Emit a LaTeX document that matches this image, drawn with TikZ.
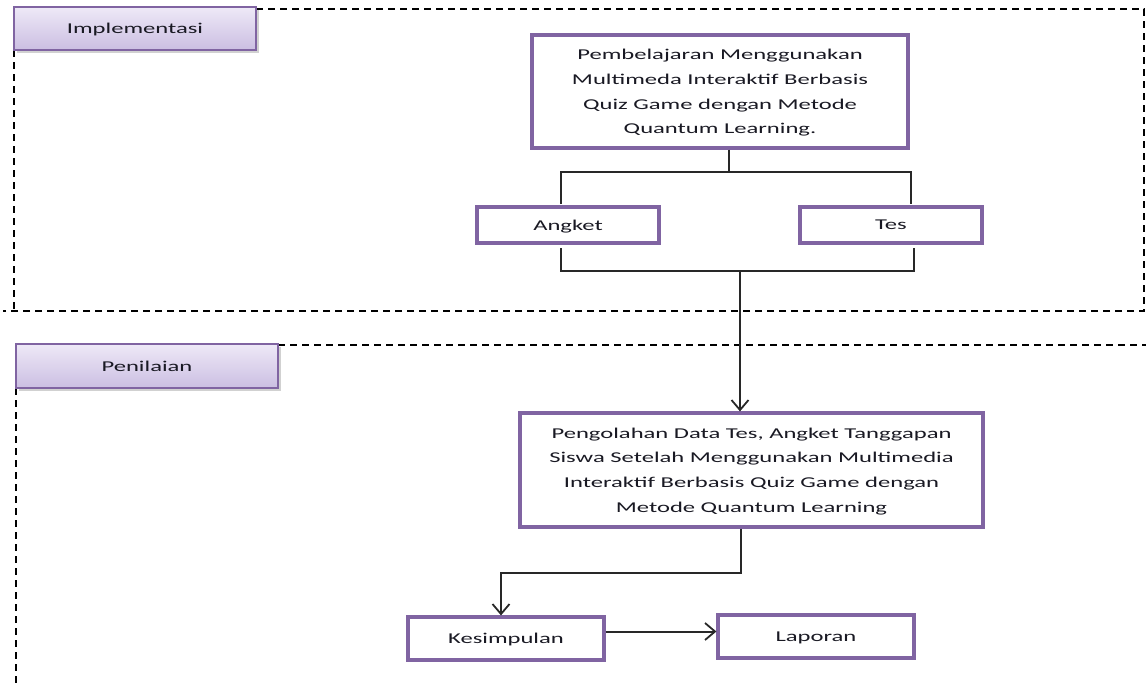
\documentclass[tikz,border=0pt]{standalone}
\usepackage{fontspec}
\setmainfont{Carlito}[FakeStretch=1.64]
\usetikzlibrary{arrows.meta}
\definecolor{boxpurple}{RGB}{128,100,162}
\definecolor{hdtop}{RGB}{238,233,247}
\definecolor{hdbot}{RGB}{203,190,226}
\definecolor{linegray}{RGB}{40,40,40}
\definecolor{txt}{RGB}{25,25,35}
\tikzset{
  mainbox/.style={draw=boxpurple, line width=3.2pt, fill=white, align=center, inner sep=0pt,
    font=\fontsize{15}{24.8}\selectfont, text=txt, text depth=0pt},
  hdbox/.style={draw=boxpurple, line width=1.6pt, top color=hdtop, bottom color=hdbot,
    inner sep=0pt, font=\fontsize{15}{24.8}\selectfont, text=txt, text depth=0pt},
  conn/.style={draw=linegray, line width=2pt},
  arr/.style={conn, -{Straight Barb[length=10pt,width=17pt,line width=1.8pt]}},
  frame/.style={draw=black, line width=2pt, dash pattern=on 7pt off 5pt}
}
\begin{document}
\begin{tikzpicture}[x=1pt,y=-1pt]
\useasboundingbox (0,0) rectangle (1146,688);
% dashed frames
\draw[frame] (256,9) -- (1144,9) -- (1144,311) -- (3,311);
\draw[frame] (14,50) -- (14,311);
\draw[frame] (278,345) -- (1147,345) -- (1147,688);
\draw[frame] (16,388) -- (16,688);
% headers
\fill[black,opacity=0.18] (16.5,9.5) rectangle (258.5,52.5);
\node[hdbox, minimum width=242, minimum height=43] (h1) at (135,28.5) {Implementasi};
\fill[black,opacity=0.18] (18.5,346.5) rectangle (280.5,390.5);
\node[hdbox, minimum width=262, minimum height=44] (h2) at (147,366) {Penilaian};
% boxes
\node[mainbox, minimum width=376, minimum height=113] (b1) at (720,91.5)
  {Pembelajaran Menggunakan\\Multimeda Interaktif Berbasis\\Quiz Game  dengan Metode\\Quantum Learning.};
\node[mainbox, minimum width=182, minimum height=36] (ang) at (568,225) {Angket};
\node[mainbox, minimum width=182, minimum height=36] (tes) at (891,225) {Tes};
\node[mainbox, minimum width=463, minimum height=114] (pg) at (751.5,470)
  {Pengolahan Data Tes, Angket Tanggapan\\Siswa Setelah Menggunakan Multimedia\\Interaktif Berbasis Quiz Game  dengan\\Metode Quantum Learning};
\node[mainbox, minimum width=196, minimum height=43] (kes) at (506,638.5) {Kesimpulan};
\node[mainbox, minimum width=196, minimum height=43] (lap) at (816,636.5) {Laporan};
% connectors
\coordinate (t1) at (729,172);
\coordinate (t2) at (561,172);
\coordinate (t3) at (911,172);
\coordinate (t2e) at (561,204);
\coordinate (t3e) at (911,204);
\draw[conn] (b1.south -| t1) -- (t1);
\draw[conn] (t2e) -- (t2) -- (t3) -- (t3e);
\coordinate (u2s) at (561,248);
\coordinate (u2) at (561,271);
\coordinate (u3) at (914,271);
\coordinate (u3s) at (914,248);
\coordinate (u1) at (740,271);
\draw[conn] (u2s) -- (u2) -- (u3) -- (u3s);
\draw[arr] (u1) -- (pg.north -| u1);
\coordinate (v1) at (741,573);
\coordinate (v2) at (501,573);
\draw[arr] (pg.south -| v1) -- (v1) -- (v2) -- (kes.north -| v2);
\draw[arr] ([yshift=7pt]kes.east) -- ([yshift=7pt]kes.east -| lap.west);
\end{tikzpicture}
\end{document}
